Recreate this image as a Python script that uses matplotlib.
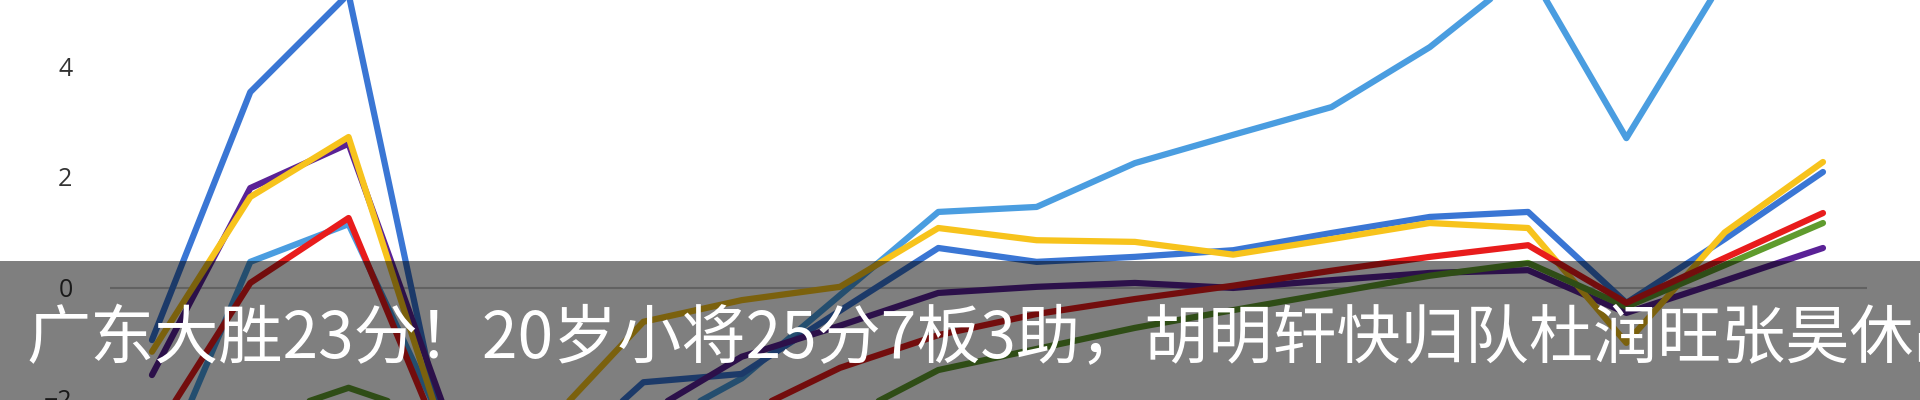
import matplotlib.pyplot as plt
from matplotlib.patches import Rectangle

# 18 points per series
puntos = list(range(18))
azul_claro = [-3.7, 0.47, 1.15, -2.6, -3.0, -2.6, -1.63, -0.13, 1.37, 1.46, 2.25, 2.76, 3.26, 4.34, 5.75, 2.7, 5.6, 6.2]
azul = [-0.94, 3.53, 5.3, -3.0, -3.3, -1.7, -1.55, -0.41, 0.72, 0.47, 0.56, 0.68, 0.99, 1.28, 1.37, -0.27, 0.88, 2.09]
morado = [-1.57, 1.8, 2.6, -2.3, -2.8, -2.3, -1.24, -0.68, -0.09, 0.02, 0.09, 0.0, 0.14, 0.27, 0.32, -0.45, 0.13, 0.72]
amarillo = [-1.15, 1.64, 2.72, -2.8, -2.5, -0.61, -0.22, 0.02, 1.08, 0.86, 0.83, 0.6, 0.88, 1.17, 1.08, -0.99, 1.0, 2.27]
verde = [-3.0, -2.4, -1.8, -2.4, -3.0, -3.0, -3.0, -2.4, -1.48, -1.1, -0.72, -0.4, -0.09, 0.22, 0.45, -0.34, 0.41, 1.17]
rojo = [-2.7, 0.09, 1.26, -3.0, -3.2, -2.8, -2.3, -1.44, -0.85, -0.47, -0.2, 0.04, 0.31, 0.56, 0.77, -0.27, 0.54, 1.35]
yticks = [-2, 0, 2, 4]
titulo = "广东大胜23分！20岁小将25分7板3助，胡明轩快归队杜润旺张昊休战"

fig = plt.figure(figsize=(19.2, 4), dpi=100)
ax = fig.add_axes([110/1920, 0, (1867-110)/1920, 1])

estilo = dict(linewidth=4.5, solid_capstyle="round", solid_joinstyle="round")
ax.axhline(0, color="#c4c4c4", linewidth=1.5, zorder=1)
ax.plot(puntos, azul_claro, color="#4a9de0", **estilo)
ax.plot(puntos, azul, color="#3a76d4", **estilo)
ax.plot(puntos, morado, color="#5a2296", **estilo)
ax.plot(puntos, amarillo, color="#f7c31c", **estilo)
ax.plot(puntos, verde, color="#5f9b2d", **estilo)
ax.plot(puntos, rojo, color="#e81c1c", **estilo)

ax.set_xlim(-0.427, 17.448)
ax.set_ylim(-2.02, 5.19)
ax.set_yticks(yticks)
ax.set_xticks([])
ax.tick_params(axis="y", length=0, pad=27, labelsize=18, labelcolor="#333333")
for lbl in ax.get_yticklabels():
    lbl.set_family("Open Sans")
for s in ax.spines.values():
    s.set_visible(False)

# gray band with the caption
fig.patches.append(Rectangle((0, 0), 1, 1-261/400, transform=fig.transFigure,
                             facecolor="black", alpha=0.5, zorder=5))
fig.text(26/1920, 1-358/400, titulo, color="white", fontsize=46.15, va="baseline",
         family=["Noto Sans CJK SC", "DejaVu Sans"], zorder=6)

fig.savefig("out.png", dpi=100)
